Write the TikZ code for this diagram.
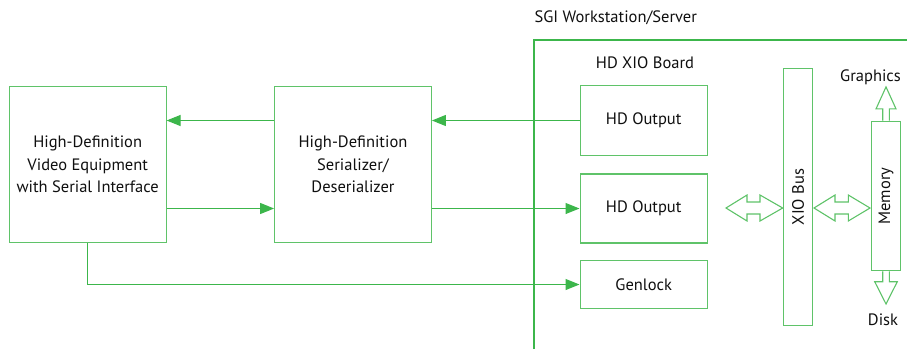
\documentclass[tikz,border=0pt]{standalone}
\usepackage{fontspec}
\setmainfont{PT Sans}
\usetikzlibrary{arrows.meta}
\definecolor{boxgreen}{RGB}{95,195,105}
\definecolor{linegreen}{RGB}{60,182,75}
\definecolor{txt}{RGB}{15,15,15}
\begin{document}
\begin{tikzpicture}[x=1pt,y=-1pt,
  every node/.style={text=txt,font=\fontsize{16.5}{22.5}\selectfont},
  blk/.style={draw=boxgreen,line width=1.1pt,inner sep=0pt,align=center},
  conn/.style={draw=linegreen,line width=1.1pt,-{Triangle[length=14pt,width=11pt]}},
  dbl/.style={draw=boxgreen,line width=1.1pt,fill=white,line join=miter}
]
\useasboundingbox (0,0) rectangle (907,349);
% frame
\draw[linegreen,line width=2pt] (534.3,349) -- (534.3,40) -- (907,40);
\node[anchor=west] (sgi) at (531,18) {SGI Workstation/Server};
\node (board) at (645,63) {HD XIO Board};
% blocks
\node[blk,minimum width=156.7pt,minimum height=156pt] (video) at (87.7,164.7) {High-Definition\\Video Equipment\\with Serial Interface};
\node[blk,minimum width=156.7pt,minimum height=156pt] (serdes) at (353,164.7) {High-Definition\\Serializer/\\Deserializer};
\node[blk,minimum width=127.3pt,minimum height=70pt] (out1) at (643.7,120.5) {HD Output};
\node[blk,minimum width=127.3pt,minimum height=69pt] (out2) at (643.7,208.5) {HD Output};
\node[blk,minimum width=127.3pt,minimum height=47.5pt] (gen) at (643.7,284.5) {Genlock};
\node[blk,minimum width=29.4pt,minimum height=257.7pt] (bus) at (798,197) {};
\node[rotate=90] (buslbl) at (798,197) {XIO Bus};
\node[blk,minimum width=29.4pt,minimum height=149.7pt] (mem) at (886,196) {};
\node[rotate=90] (memlbl) at (886,196) {Memory};
\node (gfx) at (870.5,77) {Graphics};
\node (disk) at (883,320) {Disk};
% connectors
\draw[conn] (out1.west) -- (serdes.east |- out1.west);
\draw[conn] (serdes.west |- out1.west) -- (video.east |- out1.west);
\draw[conn] (video.east |- out2.west) -- (serdes.west |- out2.west);
\draw[conn] (serdes.east |- out2.west) -- (out2.west);
\draw[conn] (video.south) -- (video.south |- gen.west) -- (gen.west);
% double arrows
\coordinate (d1) at (726,208);
\draw[dbl] (d1) -- ++(21,-13) -- ++(0,7) -- ++(13,0) -- ++(0,-7) -- ++(22.7,13)
  -- ++(-22.7,13) -- ++(0,-7) -- ++(-13,0) -- ++(0,7) -- cycle;
\coordinate (d2) at (814,208);
\draw[dbl] (d2) -- ++(21,-13) -- ++(0,7) -- ++(13.3,0) -- ++(0,-7) -- ++(21.7,13)
  -- ++(-21.7,13) -- ++(0,-7) -- ++(-13.3,0) -- ++(0,7) -- cycle;
% up arrow to graphics
\draw[dbl] (mem.north) ++(-3.3,0) -- ++(0,-11.7) -- ++(-6.7,0) -- ++(10,-22)
  -- ++(10,22) -- ++(-6.7,0) -- ++(0,11.7);
% down arrow to disk
\draw[dbl] (mem.south) ++(-3.3,0) -- ++(0,10.3) -- ++(-8,0) -- ++(11.3,22.3)
  -- ++(11.3,-22.3) -- ++(-8,0) -- ++(0,-10.3);
\end{tikzpicture}
\end{document}
